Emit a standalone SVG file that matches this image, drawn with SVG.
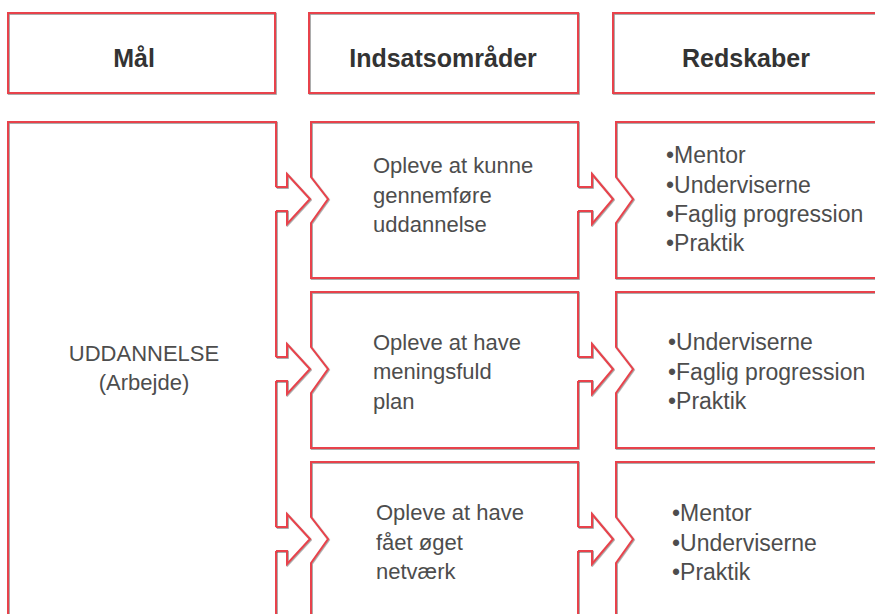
<svg xmlns="http://www.w3.org/2000/svg" width="875" height="614" viewBox="0 0 875 614">
<defs>
<filter id="sh" x="-5%" y="-5%" width="110%" height="110%">
<feDropShadow dx="0.8" dy="0.8" stdDeviation="0.3" flood-color="#444" flood-opacity="0.55"/>
</filter>
</defs>
<style>
.b{fill:none;stroke:#e8434c;stroke-width:2;stroke-linejoin:miter;filter:url(#sh)}
.h{font-family:"Liberation Sans",Arial,sans-serif;font-size:25px;font-weight:bold;fill:#333;text-anchor:middle}
.t{font-family:"Liberation Sans",Arial,sans-serif;font-size:22px;fill:#4d4d4d}
.r{font-family:"Liberation Sans",Arial,sans-serif;font-size:23px;fill:#4d4d4d}
</style>
<rect width="875" height="614" fill="#fff"/>
<g id="head-maal"><rect class="b" x="8" y="13" width="267" height="80"/><text class="h" x="134" y="67">Mål</text></g>
<g id="head-indsats"><rect class="b" x="309" y="13" width="269" height="80"/><text class="h" x="443" y="67">Indsatsområder</text></g>
<g id="head-redskaber"><rect class="b" x="613" y="13" width="290" height="80"/><text class="h" x="746" y="67">Redskaber</text></g>

<g id="maal-uddannelse">
<path class="b" d="M276,187 L276,122 L8,122 L8,640 M276,211 L276,357 M276,381 L276,527 M276,551 L276,640"/>
<text class="t" text-anchor="middle" x="144" y="361">UDDANNELSE</text>
<text class="t" text-anchor="middle" x="144" y="390">(Arbejde)</text>
</g>

<g id="indsats-1">
<path class="b" d="M578,187 L578,122 L311,122 L311,177 L328,199 L311,223 L311,278 L578,278 L578,211"/>
<text class="t" x="373" y="173">Opleve at kunne</text>
<text class="t" x="373" y="203">gennemføre</text>
<text class="t" x="373" y="232">uddannelse</text>
</g>
<g id="indsats-2">
<path class="b" d="M578,357 L578,292 L311,292 L311,347 L328,369 L311,393 L311,448 L578,448 L578,381"/>
<text class="t" x="373" y="350">Opleve at have</text>
<text class="t" x="373" y="379">meningsfuld</text>
<text class="t" x="373" y="409">plan</text>
</g>
<g id="indsats-3">
<path class="b" d="M578,527 L578,462 L311,462 L311,517 L328,539 L311,563 L311,640 M578,640 L578,551"/>
<text class="t" x="376" y="520">Opleve at have</text>
<text class="t" x="376" y="550">fået øget</text>
<text class="t" x="376" y="579">netværk</text>
</g>

<g id="redskaber-1">
<path class="b" d="M900,122 L616,122 L616,177 L633,199 L616,223 L616,278 L900,278"/>
<text class="r" x="666" y="163">•Mentor</text>
<text class="r" x="666" y="193">•Underviserne</text>
<text class="r" x="666" y="222">•Faglig progression</text>
<text class="r" x="666" y="251">•Praktik</text>
</g>
<g id="redskaber-2">
<path class="b" d="M900,292 L616,292 L616,347 L633,369 L616,393 L616,448 L900,448"/>
<text class="r" x="668" y="350">•Underviserne</text>
<text class="r" x="668" y="380">•Faglig progression</text>
<text class="r" x="668" y="409">•Praktik</text>
</g>
<g id="redskaber-3">
<path class="b" d="M900,462 L616,462 L616,517 L633,539 L616,563 L616,640"/>
<text class="r" x="672" y="521">•Mentor</text>
<text class="r" x="672" y="551">•Underviserne</text>
<text class="r" x="672" y="580">•Praktik</text>
</g>

<g id="connectors">
<path class="b" d="M276,187 L287,187 L287,174 L310,199 L287,224 L287,211 L276,211"/>
<path class="b" d="M276,357 L287,357 L287,344 L310,369 L287,394 L287,381 L276,381"/>
<path class="b" d="M276,527 L287,527 L287,514 L310,539 L287,564 L287,551 L276,551"/>
<path class="b" d="M578,187 L592,187 L592,174 L613,199 L592,224 L592,211 L578,211"/>
<path class="b" d="M578,357 L592,357 L592,344 L613,369 L592,394 L592,381 L578,381"/>
<path class="b" d="M578,527 L592,527 L592,514 L613,539 L592,564 L592,551 L578,551"/>
</g>
</svg>
